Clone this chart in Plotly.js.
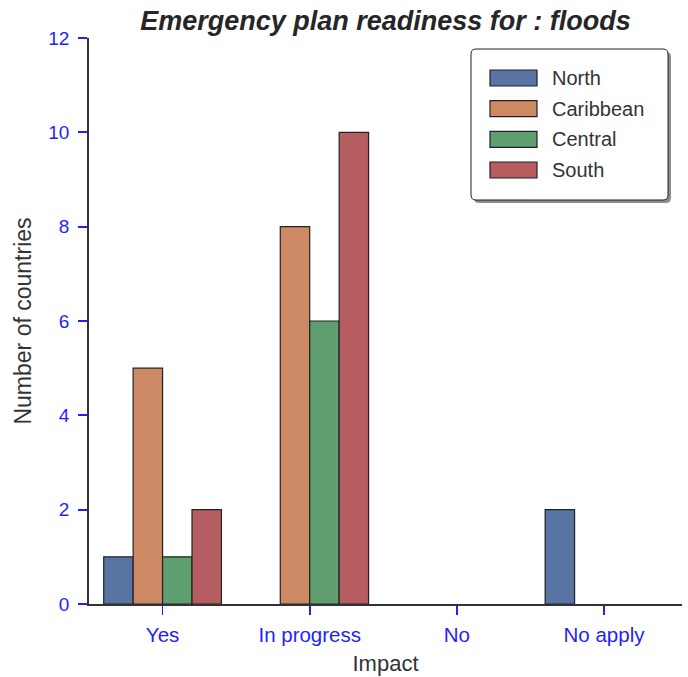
<!DOCTYPE html>
<html>
<head>
<meta charset="utf-8">
<script src="https://cdn.plot.ly/plotly-3.0.1.min.js"></script>
<style>html,body{margin:0;padding:0;background:#fff;}#chart{width:688px;height:677px;}</style>
</head>
<body>
<div id="chart"></div>
<script>
const categories = ["Yes", "In progress", "No", "No apply"];
const regions = ["North", "Caribbean", "Central", "South"];
const northValues = [1, 0, 0, 2];
const caribbeanValues = [5, 8, 0, 0];
const centralValues = [1, 6, 0, 0];
const southValues = [2, 10, 0, 0];
const yTicks = [0, 2, 4, 6, 8, 10, 12];

const seriesValues = [northValues, caribbeanValues, centralValues, southValues];
const colors = ["#5975a4", "#cc8963", "#5f9e6e", "#b55d60"];

const W = 688, H = 677;
const M = {l: 89, r: 6, t: 38, b: 73};
const PW = W - M.l - M.r, PH = H - M.t - M.b;
const px = x => (x - M.l) / PW;
const py = y => (H - M.b - y) / PH;

const traces = regions.map((name, i) => ({
  type: "bar",
  name: name,
  x: categories,
  y: seriesValues[i],
  showlegend: false,
  marker: {color: colors[i], line: {color: "#222222", width: seriesValues[i].map(v => v === 0 ? 0 : 1.2)}},
  hoverinfo: "skip"
}));

// manual legend (box with rounded corners + shadow)
function roundRect(x0, y0, x1, y1, r) {
  const X = v => px(v), Y = v => py(v);
  return `M ${X(x0 + r)},${Y(y0)} L ${X(x1 - r)},${Y(y0)} Q ${X(x1)},${Y(y0)} ${X(x1)},${Y(y0 + r)} ` +
         `L ${X(x1)},${Y(y1 - r)} Q ${X(x1)},${Y(y1)} ${X(x1 - r)},${Y(y1)} ` +
         `L ${X(x0 + r)},${Y(y1)} Q ${X(x0)},${Y(y1)} ${X(x0)},${Y(y1 - r)} ` +
         `L ${X(x0)},${Y(y0 + r)} Q ${X(x0)},${Y(y0)} ${X(x0 + r)},${Y(y0)} Z`;
}
const box = {x0: 471, y0: 49, x1: 668, y1: 200};
const shapes = [
  {type: "path", xref: "paper", yref: "paper", path: roundRect(box.x0 + 3, box.y0 + 3, box.x1 + 3, box.y1 + 3, 5),
   fillcolor: "#8c8c8c", line: {width: 0}, layer: "above"},
  {type: "path", xref: "paper", yref: "paper", path: roundRect(box.x0, box.y0, box.x1, box.y1, 5),
   fillcolor: "#ffffff", line: {color: "#222222", width: 1}, layer: "above"}
];
const annotations = [];
const rowY = [78, 108.7, 139.3, 170];
regions.forEach((name, i) => {
  shapes.push({type: "rect", xref: "paper", yref: "paper",
    x0: px(490), x1: px(537), y0: py(rowY[i] + 8), y1: py(rowY[i] - 8),
    fillcolor: colors[i], line: {color: "#222222", width: 1.2}, layer: "above"});
  annotations.push({xref: "paper", yref: "paper", x: px(550), y: py(rowY[i]), xanchor: "left", yanchor: "middle",
    text: name, showarrow: false, font: {size: 20, color: "#333333"}});
});

const layout = {
  width: W, height: H,
  margin: M,
  paper_bgcolor: "#ffffff", plot_bgcolor: "#ffffff",
  barmode: "group", bargap: 0.2, bargroupgap: 0,
  font: {family: "Liberation Sans, Arial, sans-serif", color: "#333333"},
  title: {text: "<b><i>Emergency plan readiness for : floods</i></b>", xref: "paper", x: 0.5, xanchor: "center",
          y: 1 - 21 / H, yanchor: "middle", font: {size: 27, color: "#262626"}},
  xaxis: {
    type: "category", range: [-0.5, 3.53],
    showline: true, linecolor: "#333333", linewidth: 1.8,
    ticks: "outside", ticklen: 9, tickwidth: 1.8, tickcolor: "#1f1fff", ticklabelstandoff: 3,
    tickfont: {size: 20.5, color: "#1f1fff"}, showgrid: false, zeroline: false,
    title: {text: "Impact", font: {size: 22, color: "#333333"}, standoff: 10}
  },
  yaxis: {
    range: [0, 12], tickvals: yTicks,
    showline: true, linecolor: "#333333", linewidth: 1.8,
    ticks: "outside", ticklen: 9, tickwidth: 1.8, tickcolor: "#1f1fff", ticklabelstandoff: 5,
    tickfont: {size: 19, color: "#1f1fff"}, showgrid: false, zeroline: false,
    title: {text: "Number of countries", font: {size: 23, color: "#333333"}, standoff: 10}
  },
  showlegend: false,
  shapes: shapes,
  annotations: annotations
};

Plotly.newPlot("chart", traces, layout, {displayModeBar: false, staticPlot: true});
</script>
</body>
</html>
